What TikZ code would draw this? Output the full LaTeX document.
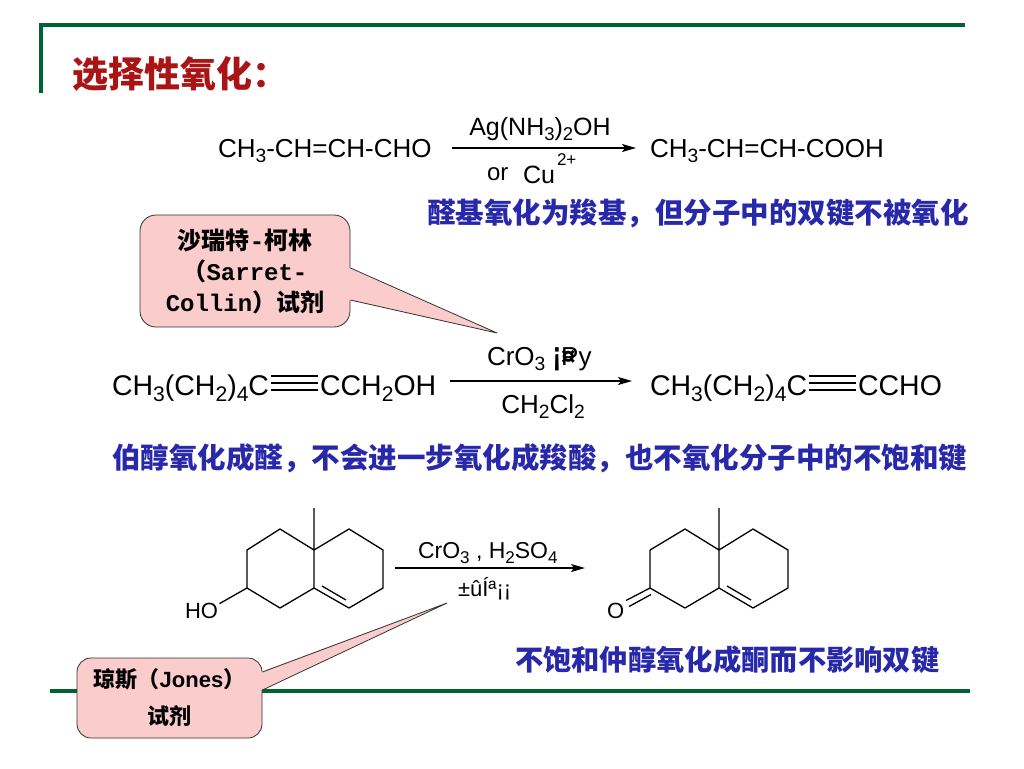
\documentclass[tikz,border=0pt]{standalone}
\usepackage{fontspec}
\setmainfont{Liberation Sans}
\newfontfamily\cjk{Noto Sans CJK SC}
\newfontfamily\mono{Liberation Mono}
\usetikzlibrary{arrows.meta}
\definecolor{dgreen}{RGB}{0,100,50}
\definecolor{titlec}{RGB}{170,20,20}
\definecolor{bluec}{RGB}{40,40,170}
\definecolor{pinkc}{RGB}{250,204,204}
\definecolor{bordc}{RGB}{50,50,50}
\newcommand{\fs}[1]{\fontsize{#1}{#1}\selectfont}
\newcommand{\fsb}[2]{\fontsize{#1}{#2}\selectfont}
\newcommand{\chsub}[1]{\raisebox{-0.23em}{\scalebox{0.74}{#1}}}
\begin{document}
\begin{tikzpicture}[x=1pt,y=-1pt,
  txt/.style={inner sep=0pt,outer sep=0pt},
  rxn/.style={line width=1.3pt,-{Stealth[length=14pt,width=8pt,inset=3pt]}},
  bond/.style={line width=1.3pt,line join=round},
  callout/.style={draw=bordc,fill=pinkc,line width=0.8pt,inner sep=0pt,align=center},
  note/.style={txt,text=bluec},
  gline/.style={draw=dgreen,line width=3.5pt}]
\useasboundingbox[fill=white] (0,0) rectangle (1024,768);
% frame lines
\coordinate (gtl) at (41,25);
\coordinate (gtr) at (965,25);
\coordinate (gbl) at (41,93);
\draw[gline] (gbl) -- (gtl) -- (gtr);
\coordinate (bl) at (50,691);
\coordinate (br) at (970,691);
\draw[gline] (bl) -- (br);
% title
\node[txt,anchor=west,text=titlec,font=\cjk\bfseries\fs{36}] (title) at (72,74) {选择性氧化：};
% reaction 1
\node[txt,anchor=base west,font=\fs{26}] (r1) at (218,157) {CH\chsub{3}-CH=CH-CHO};
\node[txt,anchor=base west,font=\fs{26}] (p1) at (650,157) {CH\chsub{3}-CH=CH-COOH};
\coordinate (a1s) at (452,148);
\coordinate (a1e) at (636,148);
\draw[rxn] (a1s) -- (a1e);
\node[txt,anchor=base,font=\fs{25}] (g1) at (540,135) {Ag(NH\chsub{3})\chsub{2}OH};
\node[txt,anchor=base west,font=\fs{24}] (or1) at (487,180) {or};
\node[txt,anchor=base west,font=\fs{25}] (cu) at (523,183) {Cu};
\node[txt,anchor=base west,font=\fs{17}] (cup) at (557,165) {2+};
\node[note,anchor=west,font=\cjk\bfseries\fs{28.5}] (n1) at (427,213) {醛基氧化为羧基，但分子中的双键不被氧化};
% callout 1
\node[callout,rounded corners=16pt,minimum width=210pt,minimum height=112pt,font=\cjk\bfseries\fsb{24}{31}] (c1) at (245,271)
  {沙瑞特{\mono\bfseries -}柯林\\（{\mono\bfseries Sarret-}\\{\mono\bfseries Collin}）试剂};
\coordinate (t1) at (497,333);
\fill[pinkc] ([xshift=-1.5pt,yshift=3pt]c1.east) -- (t1) -- ([xshift=-1.5pt,yshift=-29pt]c1.east) -- cycle;
\draw[bordc,line width=0.8pt,line join=round] ([yshift=3pt]c1.east) -- (t1) -- ([yshift=-29pt]c1.east);
% reaction 2
\node[txt,anchor=base west,font=\fs{28.5}] (r2a) at (112,395) {CH\chsub{3}(CH\chsub{2})\chsub{4}C};
\foreach \dy in {5,12,19} \draw[line width=1.2pt] ([xshift=2pt,yshift=\dy pt]r2a.base east) -- ++(47,0);
\node[txt,anchor=base west,font=\fs{28.5}] (r2b) at ([xshift=51pt]r2a.base east) {CCH\chsub{2}OH};
\coordinate (a2s) at (450,381);
\coordinate (a2e) at (632,381);
\draw[rxn] (a2s) -- (a2e);
\node[txt,anchor=base west,font=\fs{26}] (g2) at (487,365) {CrO\chsub{3} \scalebox{1}[1.3]{\bfseries ¡}\rlap{\bfseries ¤}Py};
\node[txt,anchor=base,font=\fs{26}] (s2) at (543,413) {CH\chsub{2}Cl\chsub{2}};
\node[txt,anchor=base west,font=\fs{28.5}] (p2a) at (650,395) {CH\chsub{3}(CH\chsub{2})\chsub{4}C};
\foreach \dy in {5,12,19} \draw[line width=1.2pt] ([xshift=2pt,yshift=\dy pt]p2a.base east) -- ++(47,0);
\node[txt,anchor=base west,font=\fs{28.5}] (p2b) at ([xshift=51pt]p2a.base east) {CCHO};
\node[note,anchor=west,font=\cjk\bfseries\fs{28.5}] (n2) at (112,458) {伯醇氧化成醛，不会进一步氧化成羧酸，也不氧化分子中的不饱和键};
% reaction 3: reactant
\coordinate (q) at (314,550); \coordinate (m) at (314,508);
\coordinate (L1) at (280,529); \coordinate (L2) at (247,550);
\coordinate (L3) at (247,588); \coordinate (L4) at (280,608);
\coordinate (f) at (314,588);
\coordinate (R1) at (349,529); \coordinate (R2) at (383,550);
\coordinate (R3) at (383,588); \coordinate (R4) at (349,608);
\draw[bond] (m) -- (q) -- (L1) -- (L2) -- (L3) -- (L4) -- (f) -- (q) -- (R1) -- (R2) -- (R3) -- (R4) -- (f);
\draw[bond] (322,586) -- (346,600);
\node[txt,anchor=base west,font=\fs{22}] (ho) at (185,618) {HO};
\draw[bond] (L3) -- ([xshift=1.5pt,yshift=-1pt]ho.north east);
% reaction 3: product
\coordinate (pq) at (719,550); \coordinate (pm) at (719,508);
\coordinate (pL1) at (685,529); \coordinate (pL2) at (650,550);
\coordinate (pL3) at (650,588); \coordinate (pL4) at (685,608);
\coordinate (pf) at (719,588);
\coordinate (pR1) at (753,529); \coordinate (pR2) at (788,550);
\coordinate (pR3) at (788,588); \coordinate (pR4) at (753,608);
\draw[bond] (pm) -- (pq) -- (pL1) -- (pL2) -- (pL3) -- (pL4) -- (pf) -- (pq) -- (pR1) -- (pR2) -- (pR3) -- (pR4) -- (pf);
\draw[bond] (727,586) -- (751,600);
\node[txt,anchor=base west,font=\fs{22}] (ox) at (607,618) {O};
\draw[bond] (pL3) -- (626,600.5);
\draw[bond] (651,594.5) -- (629,606.5);
% arrow 3
\coordinate (a3s) at (395,568);
\coordinate (a3e) at (585,568);
\draw[rxn] (a3s) -- (a3e);
\node[txt,anchor=base west,font=\fs{23}] (g3) at (418,558) {CrO\chsub{3} , H\chsub{2}SO\chsub{4}};
\node[txt,anchor=base west,font=\fs{22}] (s3) at (458,596) {±ûÍª¡¡};
\node[note,anchor=west,font=\cjk\bfseries\fs{28.3}] (n3) at (515,660) {不饱和仲醇氧化成酮而不影响双键};
% callout 2
\node[callout,rounded corners=14pt,minimum width=185pt,minimum height=80pt,font=\cjk\bfseries\fsb{22}{37}] (c2) at (169.5,698)
  {琼斯（{\rmfamily\bfseries Jones}）\\试剂};
\coordinate (t2) at (447,603);
\fill[pinkc] ([xshift=-1.5pt,yshift=26pt]c2.east) -- (t2) -- ([xshift=-1.5pt,yshift=8pt]c2.east) -- cycle;
\draw[bordc,line width=0.8pt,line join=round] ([yshift=26pt]c2.east) -- (t2) -- ([yshift=8pt]c2.east);
\end{tikzpicture}
\end{document}
